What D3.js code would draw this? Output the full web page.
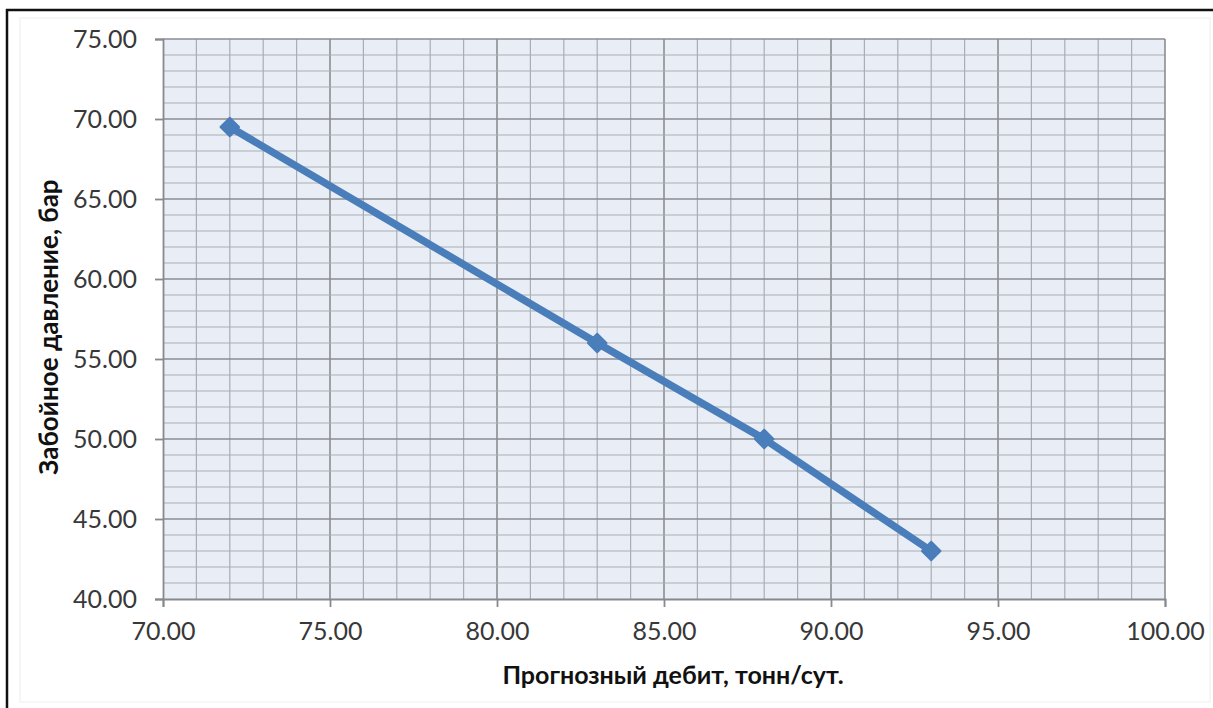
<!DOCTYPE html>
<html>
<head>
<meta charset="utf-8">
<script src="https://cdn.jsdelivr.net/npm/d3@7/dist/d3.min.js"></script>
<style>
  html, body { margin: 0; padding: 0; background: #fff; }
  svg { display: block; }
</style>
</head>
<body>
<svg id="chart" width="1213" height="708"></svg>
<script>
// Прогнозный дебит (тонн/сут.) и забойное давление (бар)
const rates = [72, 83, 88, 93];
const pressures = [69.5, 56, 50, 43];
const xTicks = [70, 75, 80, 85, 90, 95, 100];
const yTicks = [40, 45, 50, 55, 60, 65, 70, 75];
const xTitle = "Прогнозный дебит, тонн/сут.";
const yTitle = "Забойное давление, бар";

const svg = d3.select("#chart");
const W = 1213, H = 708;
const plot = { left: 163, right: 1165, top: 39, bottom: 599 };

const x = d3.scaleLinear().domain([70, 100]).range([plot.left, plot.right]);
const y = d3.scaleLinear().domain([40, 75]).range([plot.bottom, plot.top]);

// outer frame (top and left edges)
svg.append("rect").attr("x", 0).attr("y", 0).attr("width", W).attr("height", H).attr("fill", "#fff");
svg.append("line").attr("x1", 6).attr("x2", W).attr("y1", 10).attr("y2", 10)
  .attr("stroke", "#111").attr("stroke-width", 2.5);
svg.append("line").attr("x1", 7).attr("x2", 7).attr("y1", 9).attr("y2", H)
  .attr("stroke", "#111").attr("stroke-width", 2.5);
// faint chart-area border
svg.append("rect").attr("x", 20).attr("y", 18).attr("width", 1190).attr("height", 684)
  .attr("fill", "none").attr("stroke", "#eeeeee").attr("stroke-width", 1);

// plot background
svg.append("rect")
  .attr("x", plot.left).attr("y", plot.top)
  .attr("width", plot.right - plot.left).attr("height", plot.bottom - plot.top)
  .attr("fill", "#e9edf5");

// grid: minor every 1 unit, major every 5
const grid = svg.append("g");
d3.range(71, 100, 1).forEach(v => {
  const major = v % 5 === 0;
  grid.append("line")
    .attr("x1", x(v)).attr("x2", x(v)).attr("y1", plot.top).attr("y2", plot.bottom)
    .attr("stroke", major ? "#8a8d92" : "#a9adb4").attr("stroke-width", major ? 1.6 : 1.2);
});
d3.range(41, 75, 1).forEach(v => {
  const major = v % 5 === 0;
  grid.append("line")
    .attr("x1", plot.left).attr("x2", plot.right).attr("y1", y(v)).attr("y2", y(v))
    .attr("stroke", major ? "#8a8d92" : "#a9adb4").attr("stroke-width", major ? 1.6 : 1.2);
});
// plot edges
grid.append("line").attr("x1", x(100)).attr("x2", x(100)).attr("y1", plot.top).attr("y2", plot.bottom)
  .attr("stroke", "#8a8d92").attr("stroke-width", 1.6);
grid.append("line").attr("x1", plot.left).attr("x2", plot.right).attr("y1", y(75)).attr("y2", y(75))
  .attr("stroke", "#8a8d92").attr("stroke-width", 1.6);

const tickFont = "Lato, 'Open Sans', sans-serif";

// x axis
const xAxis = d3.axisBottom(x).tickValues(xTicks).tickFormat(d3.format(".2f")).tickSize(8).tickPadding(15);
const gx = svg.append("g").attr("transform", `translate(0,${plot.bottom})`).call(xAxis);
gx.select(".domain").attr("stroke", "#86898e").attr("stroke-width", 1.8);
gx.selectAll(".tick line").attr("stroke", "#86898e").attr("stroke-width", 1.8);
gx.selectAll(".tick text").attr("fill", "#383838").attr("font-family", tickFont).attr("font-size", 25);

// y axis
const yAxis = d3.axisLeft(y).tickValues(yTicks).tickFormat(d3.format(".2f")).tickSize(8).tickPadding(18);
const gy = svg.append("g").attr("transform", `translate(${plot.left},0)`).call(yAxis);
gy.select(".domain").attr("stroke", "#86898e").attr("stroke-width", 1.8);
gy.selectAll(".tick line").attr("stroke", "#86898e").attr("stroke-width", 1.8);
gy.selectAll(".tick text").attr("fill", "#383838").attr("font-family", tickFont).attr("font-size", 25);

// series line
const pts = rates.map((r, i) => [r, pressures[i]]);
svg.append("path")
  .datum(pts)
  .attr("fill", "none")
  .attr("stroke", "#4a7ebb")
  .attr("stroke-width", 7.5)
  .attr("stroke-linejoin", "round")
  .attr("d", d3.line().x(d => x(d[0])).y(d => y(d[1])));

// diamond markers (square rotated 45°)
svg.append("g").selectAll("path")
  .data(pts)
  .join("path")
  .attr("transform", d => `translate(${x(d[0])},${y(d[1])})`)
  .attr("d", d3.symbol().type(d3.symbolDiamond2).size(220))
  .attr("fill", "#4a7ebb")
  .attr("stroke", "#4a7ebb")
  .attr("stroke-width", 2)
  .attr("stroke-linejoin", "round");

// axis titles
svg.append("text")
  .attr("x", 673).attr("y", 684)
  .attr("text-anchor", "middle")
  .attr("font-family", tickFont).attr("font-weight", "bold").attr("font-size", 25)
  .attr("fill", "#111")
  .text(xTitle);

svg.append("text")
  .attr("transform", `translate(58,327) rotate(-90)`)
  .attr("text-anchor", "middle")
  .attr("font-family", tickFont).attr("font-weight", "bold").attr("font-size", 26)
  .attr("fill", "#111")
  .text(yTitle);
</script>
</body>
</html>
